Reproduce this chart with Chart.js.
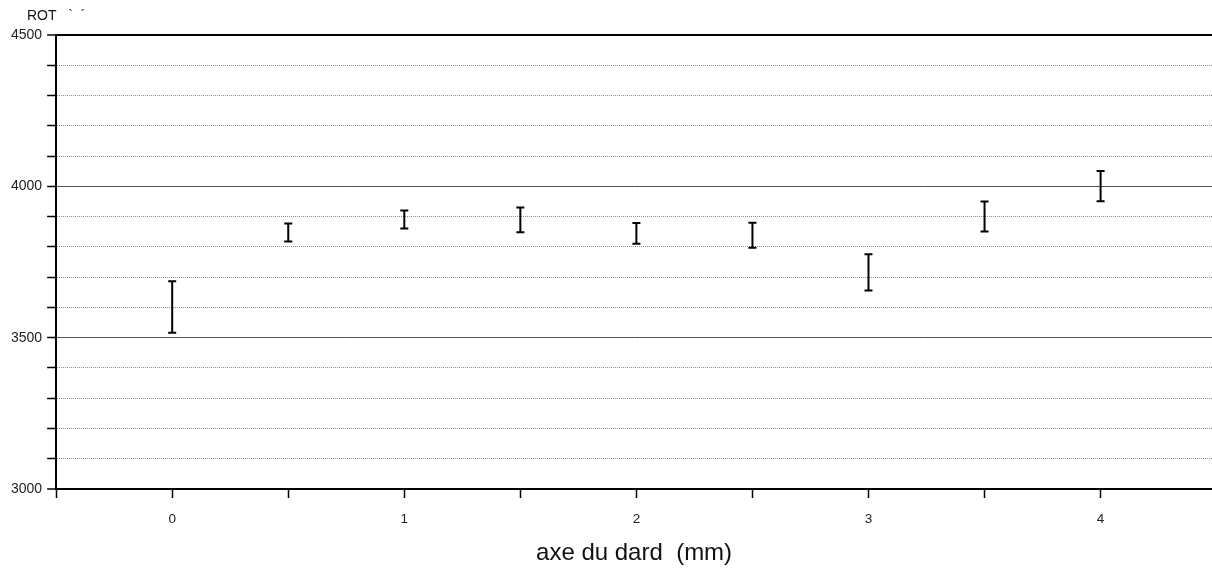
<!DOCTYPE html>
<html>
<head>
<meta charset="utf-8">
<script src="https://cdn.jsdelivr.net/npm/chart.js@4.4.0/dist/chart.umd.min.js"></script>
<style>
  body { margin: 0; background: #fff; }
  #wrap { width: 1212px; height: 568px; }
</style>
</head>
<body>
<div id="wrap"><canvas id="chart"></canvas></div>
<script>
// position along the dart axis (mm) and the error-bar bounds
const positions = [0, 0.5, 1, 1.5, 2, 2.5, 3, 3.5, 4];
const lowValues = [3516, 3818, 3861, 3848, 3810, 3797, 3656, 3851, 3951];
const highValues = [3686, 3877, 3920, 3930, 3879, 3880, 3776, 3950, 4051];

const xTicks = [-0.5, 0, 0.5, 1, 1.5, 2, 2.5, 3, 3.5, 4];
const yLabelTicks = [3000, 3500, 4000, 4500];
const yLabel = 'ROT   `  \u00b4';
const xTitle = 'axe du dard  (mm)';

const FONT = "'Liberation Sans', Arial, sans-serif";

// each error bar = two points joined by a line, then a gap (y null)
const barPoints = [];
positions.forEach((p, i) => {
  barPoints.push({ x: p, y: lowValues[i] });
  barPoints.push({ x: p, y: highValues[i] });
  barPoints.push({ x: p, y: null });
});

const cornerLabel = {
  id: 'cornerLabel',
  afterDraw(chart) {
    const ctx = chart.ctx;
    ctx.save();
    ctx.font = '14px ' + FONT;
    ctx.fillStyle = '#111';
    ctx.textBaseline = 'middle';
    ctx.fillText(yLabel, 27, 16);
    ctx.restore();
  }
};

new Chart(document.getElementById('chart'), {
  type: 'scatter',
  data: {
    datasets: [{
      data: barPoints,
      showLine: true,
      spanGaps: false,
      borderColor: '#000',
      borderWidth: 2,
      pointStyle: 'line',
      pointRadius: 4,
      pointBorderWidth: 2,
      pointBorderColor: '#000',
      pointBackgroundColor: '#000'
    }]
  },
  options: {
    responsive: true,
    maintainAspectRatio: false,
    animation: false,
    layout: { autoPadding: false, padding: { top: 35, left: 6, right: 0, bottom: 0 } },
    plugins: {
      legend: { display: false },
      tooltip: { enabled: false }
    },
    scales: {
      x: {
        type: 'linear',
        min: -0.5,
        max: 4.48,
        afterBuildTicks: (scale) => { scale.ticks = xTicks.map(v => ({ value: v })); },
        ticks: {
          autoSkip: false,
          maxRotation: 0,
          padding: 13,
          color: '#222',
          font: { family: FONT, size: 13.5 },
          callback: (v) => Number.isInteger(v) ? String(v) : ''
        },
        grid: {
          drawOnChartArea: false,
          tickLength: 9,
          tickWidth: 1.5,
          tickColor: '#000'
        },
        border: { color: '#000', width: 2 },
        title: {
          display: true,
          text: xTitle,
          color: '#111',
          font: { family: FONT, size: 24 },
          padding: { top: -1, bottom: 0 }
        }
      },
      y: {
        min: 3000,
        max: 4500,
        ticks: {
          stepSize: 100,
          autoSkip: false,
          padding: 5,
          color: '#222',
          font: { family: FONT, size: 14 },
          callback: (v) => yLabelTicks.includes(v) ? String(v) : ''
        },
        grid: {
          tickLength: 9,
          tickWidth: 1.5,
          tickColor: '#000',
          color: (ctx) => {
            const v = ctx.tick ? ctx.tick.value : 0;
            if (v === 4500 || v === 3000) return '#000';
            if (v % 500 === 0) return '#555';
            return '#8a8a8a';
          },
          lineWidth: (ctx) => {
            const v = ctx.tick ? ctx.tick.value : 0;
            return (v === 4500 || v === 3000) ? 2 : 1;
          }
        },
        border: {
          color: '#000',
          width: 2,
          dash: (ctx) => (ctx.tick && ctx.tick.value % 500 !== 0) ? [1, 1] : []
        }
      }
    }
  },
  plugins: [cornerLabel]
});
</script>
</body>
</html>
